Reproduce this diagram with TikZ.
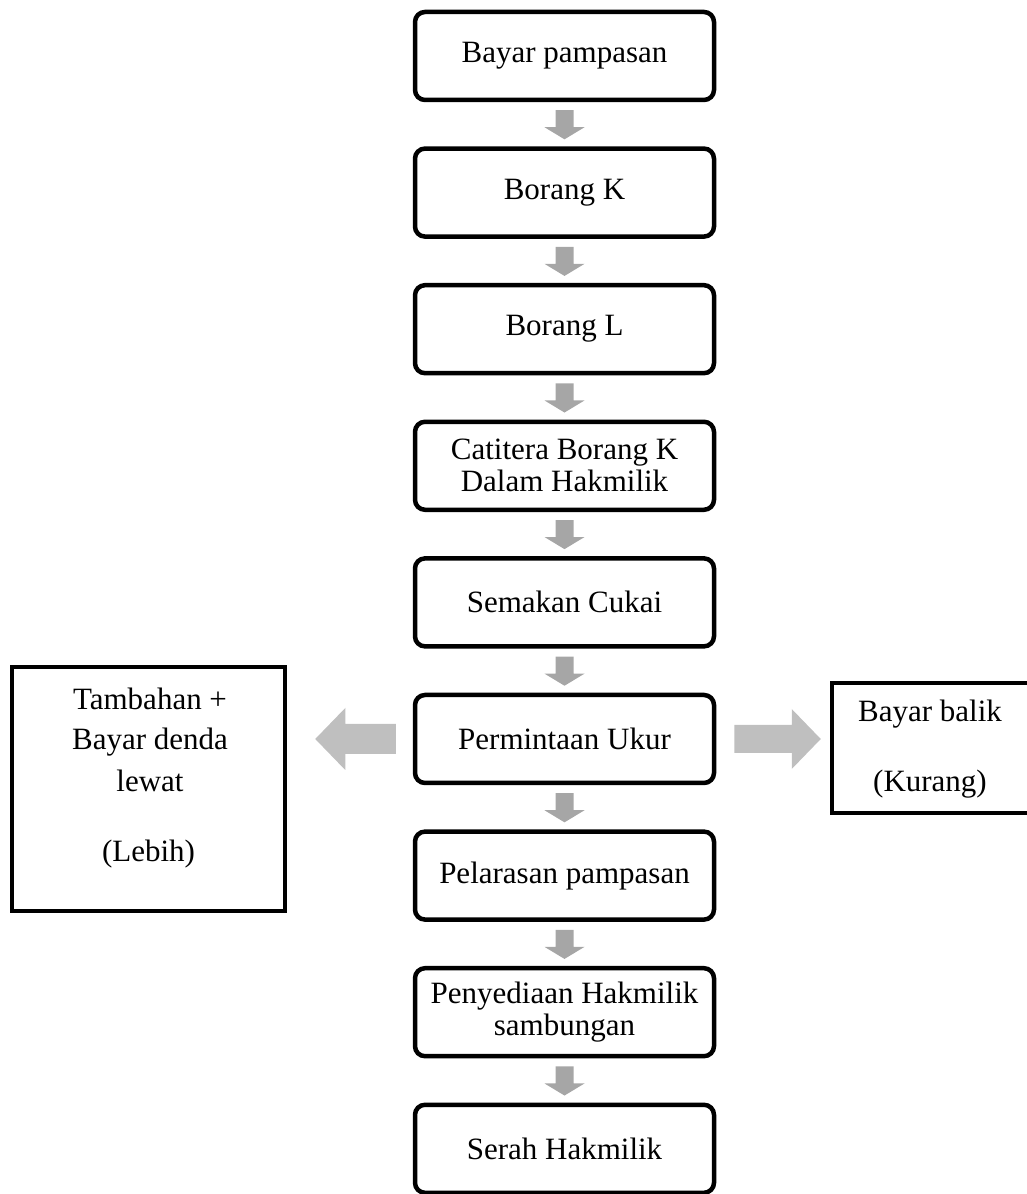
\documentclass[tikz,border=0pt]{standalone}
\usepackage{fontspec}
\setmainfont{Liberation Serif}
\usetikzlibrary{calc}
\definecolor{arrowgray}{HTML}{A6A6A6}
\definecolor{sidegray}{HTML}{BFBFBF}
\tikzset{
  stepbox/.style={draw, line width=4.5pt, rounded corners=10pt, minimum width=299pt,
    minimum height=88pt, inner sep=0pt, align=center, font=\fontsize{31}{32}\selectfont},
  sidebox/.style={draw, line width=4.5pt, inner sep=0pt},
  lbl/.style={anchor=base, inner sep=0pt, font=\fontsize{31}{32}\selectfont},
  downfill/.style={fill=arrowgray},
  sidefill/.style={fill=sidegray}
}
\newcommand{\mkdownarrow}[2]{%
  \fill[downfill] ($(#1.south)+(-9,-8)$) -- ($(#1.south)+(9,-8)$) -- ($(#1.south)+(9,-25)$)
    -- ($(#1.south)+(20,-25)$) -- ($(#2.north)+(0,7)$) -- ($(#1.south)+(-20,-25)$)
    -- ($(#1.south)+(-9,-25)$) -- cycle;}
\begin{document}
\begin{tikzpicture}[x=1pt,y=1pt]
\useasboundingbox (0,0) rectangle (1026,1194);
% main column
\node[stepbox] (b1) at (564.5,1138) {Bayar pampasan};
\node[stepbox] (b2) at (564.5,1001.4) {Borang K};
\node[stepbox] (b3) at (564.5,864.8) {Borang L};
\node[stepbox] (b4) at (564.5,728.2) {Catitera Borang K\\Dalam Hakmilik};
\node[stepbox] (b5) at (564.5,591.6) {Semakan Cukai};
\node[stepbox] (P)  at (564.5,455) {Permintaan Ukur};
\node[stepbox] (b7) at (564.5,318.4) {Pelarasan pampasan};
\node[stepbox] (b8) at (564.5,181.8) {Penyediaan Hakmilik\\sambungan};
\node[stepbox] (b9) at (564.5,45.2) {Serah Hakmilik};
% side boxes
\node[sidebox, minimum width=273pt, minimum height=244pt] (L) at (148.5,405) {};
\node[lbl] (l1) at (150,484) {Tambahan +};
\node[lbl] (l2) at (150,444) {Bayar denda};
\node[lbl] (l3) at (150,402) {lewat};
\node[lbl] (l4) at (148.5,332) {(Lebih)};
\node[sidebox, minimum width=208pt, minimum height=130pt] (R) at (936,446) {};
\node[lbl] (r1) at (930,472) {Bayar balik};
\node[lbl] (r2) at (930,402) {(Kurang)};
% down arrows
\mkdownarrow{b1}{b2}
\mkdownarrow{b2}{b3}
\mkdownarrow{b3}{b4}
\mkdownarrow{b4}{b5}
\mkdownarrow{b5}{P}
\mkdownarrow{P}{b7}
\mkdownarrow{b7}{b8}
\mkdownarrow{b8}{b9}
% left arrow
\fill[sidefill] ($(P.west)+(-17,15)$) -- ($(P.west)+(-17,-15)$)
  -- ($(L.east|-P.west)+(58,-15)$) -- ($(L.east|-P.west)+(58,-31)$)
  -- ($(L.east|-P.west)+(28,0)$) -- ($(L.east|-P.west)+(58,31)$)
  -- ($(L.east|-P.west)+(58,15)$) -- cycle;
% right arrow
\fill[sidefill] ($(P.east)+(18,14)$) -- ($(R.west|-P.east)+(-38,14)$)
  -- ($(R.west|-P.east)+(-38,30)$) -- ($(R.west|-P.east)+(-9,0)$)
  -- ($(R.west|-P.east)+(-38,-30)$) -- ($(R.west|-P.east)+(-38,-14)$)
  -- ($(P.east)+(18,-14)$) -- cycle;
\end{tikzpicture}
\end{document}
